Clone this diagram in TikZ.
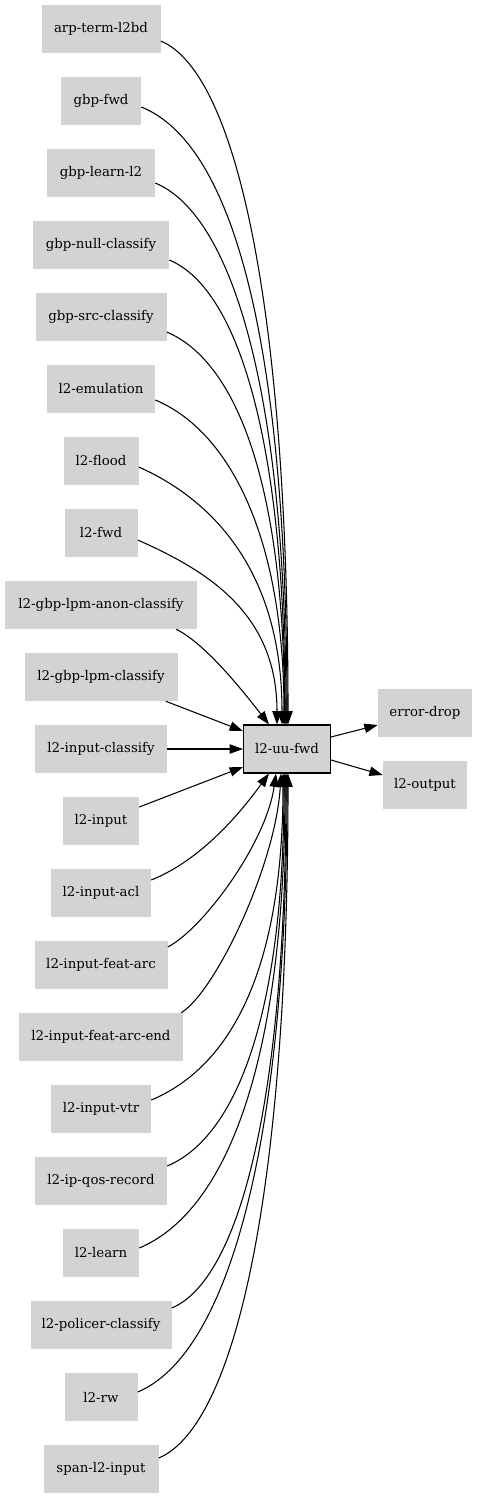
\documentclass[tikz,border=0pt]{standalone}
\usepackage{fontspec}
\setmainfont{DejaVu Serif}
\usetikzlibrary{calc,arrows.meta}
\definecolor{lgray}{RGB}{211,211,211}
\tikzset{
  gbox/.style={fill=lgray, draw=none, minimum height=36pt, inner sep=0pt,
    font=\fontsize{10pt}{12pt}\selectfont},
  cbox/.style={gbox, draw=black, line width=0.8pt},
  edge/.style={line width=0.8pt, -{Triangle[length=10pt,width=7pt]}}
}
\begin{document}
\begin{tikzpicture}[x=0.75pt, y=-0.75pt]
\useasboundingbox (0,0) rectangle (477,1499);
% left column
\node[gbox, minimum width=119*0.75pt] (arp)     at (101,29)   {arp-term-l2bd};
\node[gbox, minimum width=80*0.75pt]  (gfwd)    at (101,101)  {gbp-fwd};
\node[gbox, minimum width=108*0.75pt] (glearn)  at (101,173)  {gbp-learn-l2};
\node[gbox, minimum width=136*0.75pt] (gnull)   at (101,245)  {gbp-null-classify};
\node[gbox, minimum width=131*0.75pt] (gsrc)    at (101,317)  {gbp-src-classify};
\node[gbox, minimum width=108*0.75pt] (emu)     at (101,389)  {l2-emulation};
\node[gbox, minimum width=75*0.75pt]  (flood)   at (101,461)  {l2-flood};
\node[gbox, minimum width=73*0.75pt]  (fwd)     at (101,533)  {l2-fwd};
\node[gbox, minimum width=192*0.75pt] (anon)    at (101,605)  {l2-gbp-lpm-anon-classify};
\node[gbox, minimum width=153*0.75pt] (lpm)     at (101,677)  {l2-gbp-lpm-classify};
\node[gbox, minimum width=132*0.75pt] (icls)    at (101,749)  {l2-input-classify};
\node[gbox, minimum width=76*0.75pt]  (inp)     at (101,821)  {l2-input};
\node[gbox, minimum width=100*0.75pt] (acl)     at (101,893)  {l2-input-acl};
\node[gbox, minimum width=133*0.75pt] (farc)    at (101,965)  {l2-input-feat-arc};
\node[gbox, minimum width=164*0.75pt] (farcend) at (101,1037) {l2-input-feat-arc-end};
\node[gbox, minimum width=100*0.75pt] (vtr)     at (101,1109) {l2-input-vtr};
\node[gbox, minimum width=132*0.75pt] (qos)     at (101,1181) {l2-ip-qos-record};
\node[gbox, minimum width=76*0.75pt]  (learn)   at (101,1253) {l2-learn};
\node[gbox, minimum width=141*0.75pt] (pol)     at (101,1325) {l2-policer-classify};
\node[gbox, minimum width=73*0.75pt]  (rw)      at (101,1397) {l2-rw};
\node[gbox, minimum width=115*0.75pt] (span)    at (101,1469) {span-l2-input};
% centre and right
\node[cbox, minimum width=87*0.75pt]  (c)   at (287,749) {l2-uu-fwd};
\node[gbox, minimum width=94*0.75pt]  (err) at (425,713) {error-drop};
\node[gbox, minimum width=84*0.75pt]  (out) at (425,785) {l2-output};
% incoming from above
\draw[edge] ($(arp.east)+(0,12)$) .. controls ($(arp.east)+(77,44)$) and ($(c.north)+(1,-410)$) .. ($(c.north)+(1,0)$);
\draw[edge] ($(gfwd.east)+(0,6)$) .. controls ($(gfwd.east)+(95,44)$) and ($(c.north)+(0,-371)$) .. (c.north);
\draw[edge] ($(glearn.east)+(0,10)$) .. controls ($(glearn.east)+(79,43)$) and ($(c.north)+(-1,-325)$) .. ($(c.north)+(-1,0)$);
\draw[edge] ($(gnull.east)+(0,15)$) .. controls ($(gnull.east)+(70,44)$) and ($(c.north)+(-2,-279)$) .. ($(c.north)+(-2,0)$);
\draw[edge] ($(gsrc.east)+(0,15)$) .. controls ($(gsrc.east)+(71,45)$) and ($(c.north)+(-2.5,-236)$) .. ($(c.north)+(-2.5,0)$);
\draw[edge] ($(emu.east)+(0,11)$) .. controls ($(emu.east)+(70,40)$) and ($(c.north)+(-3,-195)$) .. ($(c.north)+(-3,0)$);
\draw[edge] ($(flood.east)+(0,6)$) .. controls ($(flood.east)+(72,38)$) and ($(c.north)+(-5,-155)$) .. ($(c.north)+(-5,0)$);
\draw[edge] ($(fwd.east)+(0,7)$) .. controls ($(fwd.east)+(70,38)$) and ($(c.north)+(-10,-111)$) .. ($(c.north)+(-10,0)$);
\draw[edge] ($(anon.south east)+(-21,0)$) .. controls ($(anon.south east)+(9,15)$) and ($(c.north)+(-43,-32)$) .. ($(c.north)+(-18,0)$);
% straight ones
\draw[edge] ($(lpm.south east)+(-12,0)$) -- ($(c.west)+(0,-18)$);
\draw[edge] (icls.east) -- (c.west);
\draw[edge] ($(inp.east)+(0,-14)$) -- ($(c.west)+(0,18)$);
% incoming from below
\draw[edge] ($(acl.east)+(0,-13)$) .. controls ($(acl.east)+(55,-35)$) and ($(c.south)+(-40,30)$) .. ($(c.south)+(-18,0)$);
\draw[edge] ($(farc.east)+(0,-18)$) .. controls ($(farc.east)+(35,-36)$) and ($(c.south)+(-21,70)$) .. ($(c.south)+(-11,0)$);
\draw[edge] ($(farcend.north east)+(-2,0)$) .. controls ($(farcend.north east)+(33,-22)$) and ($(c.south)+(-11,90)$) .. ($(c.south)+(-6,0)$);
\draw[edge] ($(vtr.east)+(0,-9)$) .. controls ($(vtr.east)+(79,-42)$) and ($(c.south)+(-4,197)$) .. ($(c.south)+(-4,0)$);
\draw[edge] ($(qos.east)+(0,-15)$) .. controls ($(qos.east)+(71,-45)$) and ($(c.south)+(-3,236)$) .. ($(c.south)+(-3,0)$);
\draw[edge] ($(learn.east)+(0,-5)$) .. controls ($(learn.east)+(88,-42)$) and ($(c.south)+(-2,286)$) .. ($(c.south)+(-2,0)$);
\draw[edge] ($(pol.east)+(0,-17)$) .. controls ($(pol.east)+(69,-46)$) and ($(c.south)+(-1,322)$) .. ($(c.south)+(-1,0)$);
\draw[edge] ($(rw.east)+(0,-5)$) .. controls ($(rw.east)+(90,-43)$) and ($(c.south)+(0,372)$) .. (c.south);
\draw[edge] ($(span.east)+(0,-11)$) .. controls ($(span.east)+(78,-44)$) and ($(c.south)+(1,412)$) .. ($(c.south)+(1,0)$);
% outgoing
\draw[edge] ($(c.east)+(0,-12)$) -- ($(err.west)+(0,12)$);
\draw[edge] ($(c.east)+(0,11)$) -- ($(out.west)+(0,-10)$);
\end{tikzpicture}
\end{document}
